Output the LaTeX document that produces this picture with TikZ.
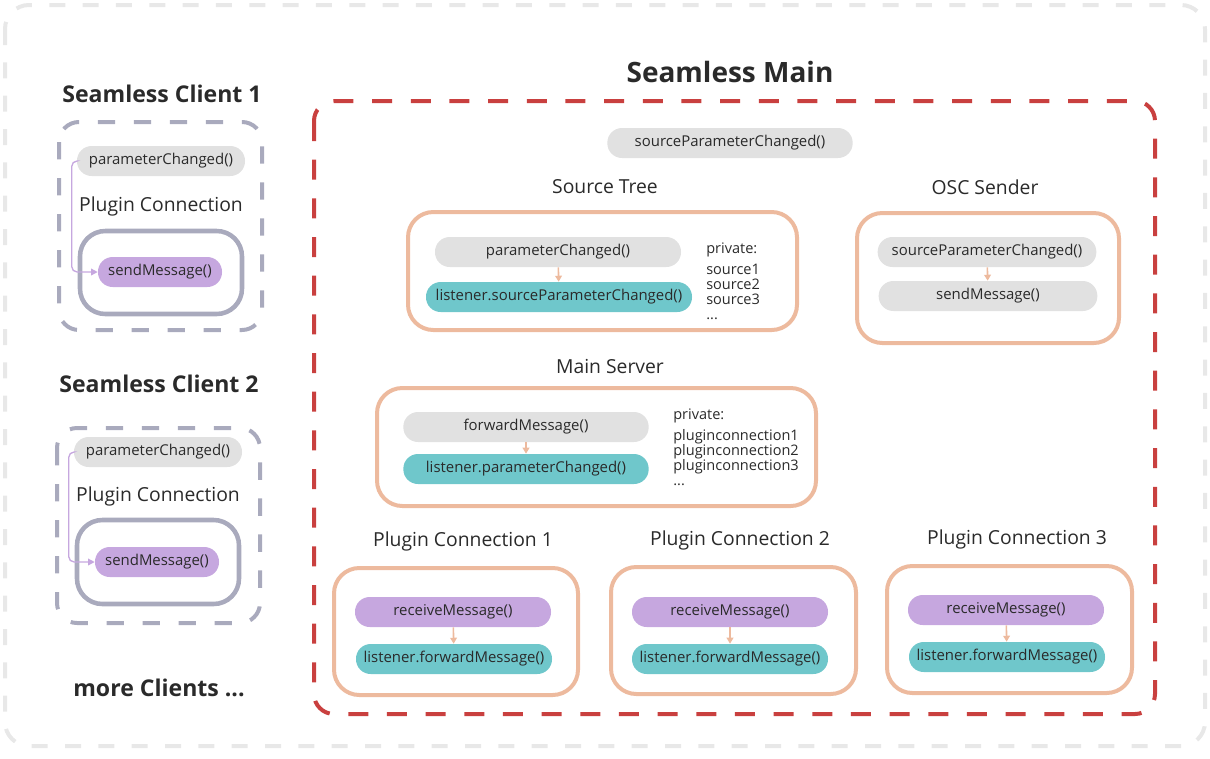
\documentclass[tikz,border=0pt]{standalone}
\usepackage{fontspec}
\setmainfont{Open Sans}
\usetikzlibrary{arrows.meta}

\definecolor{pillgray}{HTML}{E1E1E1}
\definecolor{pillpurple}{HTML}{C6A7DF}
\definecolor{pillteal}{HTML}{6FC7CB}
\definecolor{boxpeach}{HTML}{EDBA9E}
\definecolor{clientgray}{HTML}{A9AABD}
\definecolor{maindash}{HTML}{C9403F}
\definecolor{outergray}{HTML}{E8E8E8}
\definecolor{textdark}{HTML}{2A2A2A}

\tikzset{
  pill/.style={rounded corners=11pt, minimum height=22.5pt, minimum width=#1, inner sep=0pt, font=\fontsize{11.2}{12}\selectfont, text=textdark},
  graypill/.style={pill=#1, fill=pillgray},
  purplepill/.style={pill=#1, fill=pillpurple},
  tealpill/.style={pill=#1, fill=pillteal},
  peachbox/.style={draw=boxpeach, line width=3pt, rounded corners=19pt},
  conbox/.style={draw=clientgray, line width=3.4pt, rounded corners=19pt},
  clientbox/.style={draw=clientgray, line width=3pt, rounded corners=15pt, dash pattern=on 13pt off 14pt},
  mainbox/.style={draw=maindash, line width=3pt, rounded corners=15pt, dash pattern=on 15pt off 14pt},
  outerbox/.style={draw=outergray, line width=3pt, rounded corners=18pt, dash pattern=on 12pt off 13pt},
  boxtitle/.style={font=\fontsize{14.5}{16}\selectfont, text=textdark},
  clienttitle/.style={font=\bfseries\fontsize{17.3}{19}\selectfont, text=textdark},
  maintitle/.style={font=\bfseries\fontsize{21}{24}\selectfont, text=textdark},
  members/.style={font=\fontsize{10.9}{11.3}\selectfont, text=textdark, align=left, inner sep=0pt, anchor=north west},
  flow/.style={draw=boxpeach, line width=1.2pt, -{Triangle[length=4.5pt,width=5pt]}},
  clientflow/.style={draw=pillpurple, line width=1pt, rounded corners=4pt, -{Triangle[length=5pt,width=5pt]}}
}

\begin{document}
\begin{tikzpicture}[x=0.75pt, y=-0.75pt]
\useasboundingbox (0,0) rectangle (1210,758);
\draw[outerbox] (5,5) rectangle (1205,746);

\node[clienttitle] (c1title) at (162,94) {Seamless Client 1};
\draw[clientbox] (59,122) rectangle (262,330);
\node[graypill=126pt] (c1param) at (161,161) {parameterChanged()};
\node[boxtitle] (c1con) at (161,206) {Plugin Connection};
\draw[conbox] (80,231) rectangle (242,314);
\node[purplepill=93pt] (c1send) at (160,272) {sendMessage()};
\draw[clientflow] (c1param.west) -- ++(-5,0) |- (c1send.west);

\node[clienttitle] (c2title) at (159,384) {Seamless Client 2};
\draw[clientbox] (57,428) rectangle (260,623);
\node[graypill=126pt] (c2param) at (158,452) {parameterChanged()};
\node[boxtitle] (c2con) at (158,496) {Plugin Connection};
\draw[conbox] (77,520) rectangle (239,604);
\node[purplepill=93pt] (c2send) at (157,562) {sendMessage()};
\draw[clientflow] (c2param.west) -- ++(-5,0) |- (c2send.west);

\node[clienttitle] (more) at (159,688) {more Clients ...};

\node[maintitle] (maintitle) at (730,72) {Seamless Main};
\draw[mainbox] (314,101) rectangle (1155,714);
\node[graypill=184pt] (srcchanged) at (730,143) {sourceParameterChanged()};

\node[boxtitle] (treetitle) at (605,187) {Source Tree};
\draw[peachbox] (408,212) rectangle (797,330);
\node[graypill=184.5pt] (treeparam) at (558,252) {parameterChanged()};
\node[tealpill=199.5pt] (treelisten) at (559,297) {listener.sourceParameterChanged()};
\draw[flow] (treeparam) -- (treelisten);
\node[members] (treemembers) at (706,243) {private:\\[4pt]source1\\source2\\source3\\...};

\node[boxtitle] (osctitle) at (985,187) {OSC Sender};
\draw[peachbox] (857,213) rectangle (1119,343);
\node[graypill=164pt] (oscsource) at (987,252) {sourceParameterChanged()};
\node[graypill=164pt] (oscsend) at (988,296) {sendMessage()};
\draw[flow] (oscsource) -- (oscsend);

\node[boxtitle] (servertitle) at (610,366) {Main Server};
\draw[peachbox] (377,388) rectangle (816,506);
\node[graypill=184pt] (serverfwd) at (526,427) {forwardMessage()};
\node[tealpill=184pt] (serverlisten) at (526,469) {listener.parameterChanged()};
\draw[flow] (serverfwd) -- (serverlisten);
\node[members] (servermembers) at (673,409) {private:\\[4pt]pluginconnection1\\pluginconnection2\\pluginconnection3\\...};

\node[boxtitle] (pc1title) at (463,541) {Plugin Connection 1};
\draw[peachbox] (334,568) rectangle (578,695);
\node[purplepill=147pt] (pc1recv) at (453,612) {receiveMessage()};
\node[tealpill=147pt] (pc1listen) at (454,659) {listener.forwardMessage()};
\draw[flow] (pc1recv) -- (pc1listen);

\node[boxtitle] (pc2title) at (740,540) {Plugin Connection 2};
\draw[peachbox] (611,567) rectangle (856,694);
\node[purplepill=147pt] (pc2recv) at (730,612) {receiveMessage()};
\node[tealpill=147pt] (pc2listen) at (730,659) {listener.forwardMessage()};
\draw[flow] (pc2recv) -- (pc2listen);

\node[boxtitle] (pc3title) at (1017,539) {Plugin Connection 3};
\draw[peachbox] (887,566) rectangle (1132,693);
\node[purplepill=147pt] (pc3recv) at (1006,610) {receiveMessage()};
\node[tealpill=147pt] (pc3listen) at (1007,657) {listener.forwardMessage()};
\draw[flow] (pc3recv) -- (pc3listen);
\end{tikzpicture}
\end{document}
